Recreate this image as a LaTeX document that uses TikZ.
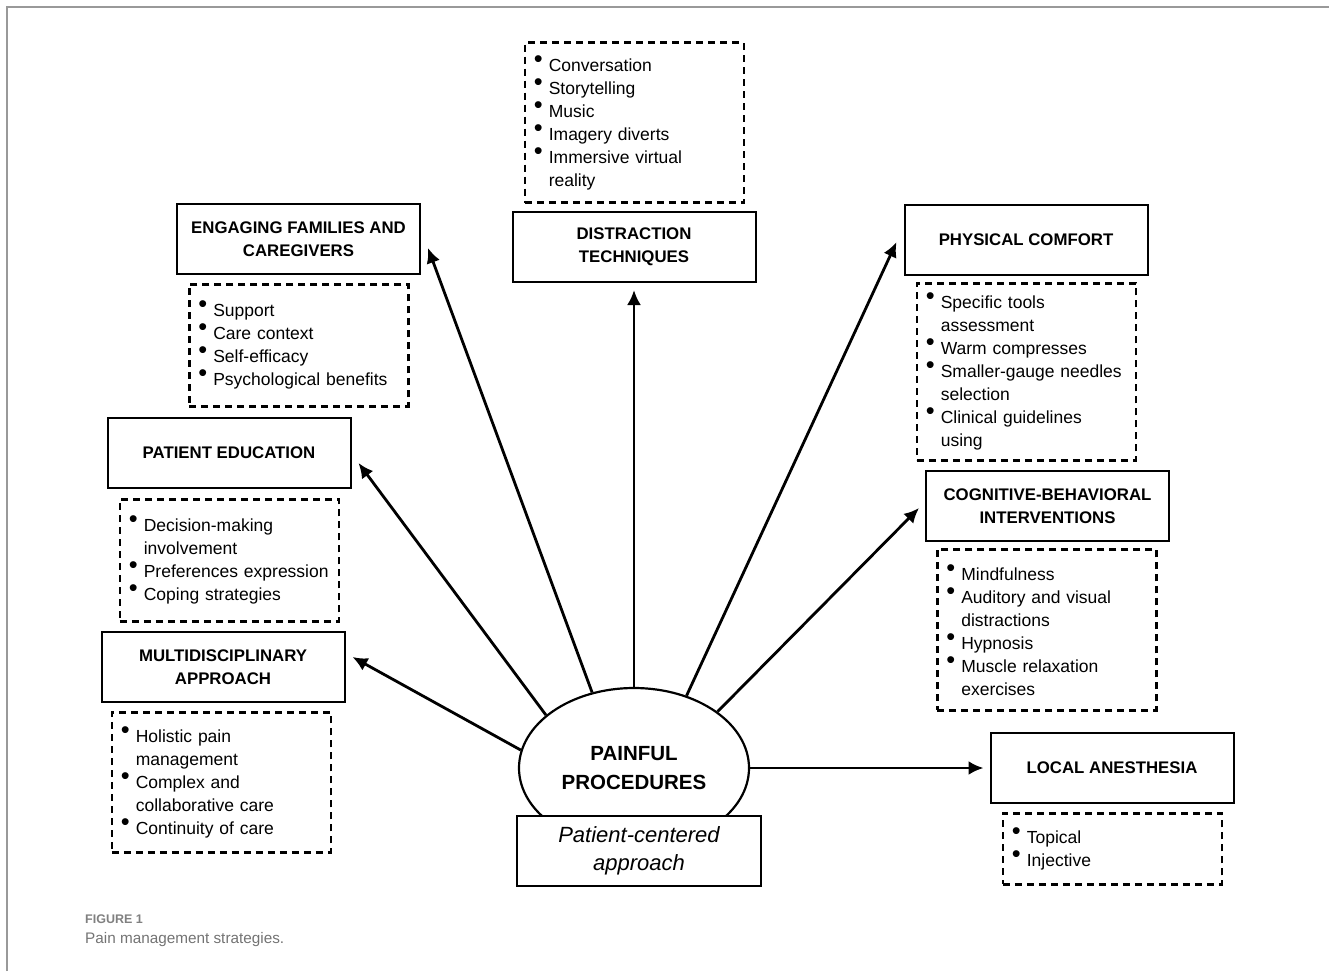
\documentclass[tikz,border=0pt]{standalone}
\usepackage{fontspec}
\setmainfont{Liberation Sans}
\usetikzlibrary{positioning,shapes.geometric,arrows.meta}
\hyphenpenalty=10000
\exhyphenpenalty=10000
\newcommand{\bul}{\makebox[15pt][l]{\raisebox{4pt}{\scalebox{1.45}{\textbullet}}}}
\newcommand{\cnt}{\hspace*{15pt}}
\begin{document}
\begin{tikzpicture}[x=1pt,y=-1pt,
    % define styles
    head/.style={
         draw,
         line width=2pt,
         minimum width=243pt,
         minimum height=70pt,
         align=center,
         font=\fontsize{16.8}{23}\selectfont\bfseries
    },
    items/.style={
        draw,
        line width=2.6pt,
        dash pattern=on 7pt off 5pt,
        inner xsep=9pt,
        text width=201pt,
        align=left,
        font=\fontsize{17.5}{23}\selectfont
    },
    arr/.style={
        -{Latex[length=15pt,width=14pt]},
        line width=2.8pt
    }
]
\useasboundingbox (0,0) rectangle (1329,971);
% frame
\draw[gray!80, line width=1.5pt] (7,971) -- (7,7) -- (1329,7);

% Headings round the centre
\node[head] (dist) at (634,247) {DISTRACTION\\TECHNIQUES};
\node[head] (fam) at (298.5,239) {ENGAGING FAMILIES AND\\CAREGIVERS};
\node[head] (edu) at (229,453) {PATIENT EDUCATION};
\node[head] (multi) at (223,667) {MULTIDISCIPLINARY\\APPROACH};
\node[head] (comf) at (1026,240) {PHYSICAL COMFORT};
\node[head] (cogn) at (1047.5,506) {COGNITIVE-BEHAVIORAL\\INTERVENTIONS};
\node[head] (anest) at (1112,768) {LOCAL ANESTHESIA};

% Lists of items
\node[items, minimum height=160pt, above right=7pt and 12pt of dist.north west] (distl)
    {\bul Conversation\\ \bul Storytelling\\ \bul Music\\ \bul Imagery diverts\\ \bul Immersive virtual\\ \cnt reality};
\node[items, minimum height=122pt, below right=8pt and 12pt of fam.south west] (faml)
    {\bul Support\\ \bul Care context\\ \bul Self-efficacy\\ \bul Psychological benefits};
\node[items, minimum height=122pt, below right=9pt and 12pt of edu.south west] (edul)
    {\bul Decision-making\\ \cnt involvement\\ \mbox{\bul Preferences expression}\\ \bul Coping strategies};
\node[items, minimum height=140pt, below right=8pt and 10pt of multi.south west] (multil)
    {\bul Holistic pain\\ \cnt management\\ \bul Complex and\\ \cnt collaborative care\\ \bul Continuity of care};
\node[items, minimum height=177pt, below right=6pt and 12pt of comf.south west] (comfl)
    {\bul Specific tools\\ \cnt assessment\\ \bul Warm compresses\\ \mbox{\bul Smaller-gauge needles}\\ \cnt selection\\ \bul Clinical guidelines\\ \cnt using};
\node[items, minimum height=161pt, below right=6pt and 11pt of cogn.south west] (cognl)
    {\bul Mindfulness\\ \bul Auditory and visual\\ \cnt distractions\\ \bul Hypnosis\\ \bul Muscle relaxation\\ \cnt exercises};
\node[items, minimum height=71pt, below right=8pt and 12pt of anest.south west] (anestl)
    {\bul Topical\\ \bul Injective};

% Centre
\node[ellipse, draw, line width=2.2pt, minimum width=230pt, minimum height=160pt, inner sep=0pt,
    align=center, font=\fontsize{20.5}{29}\selectfont\bfseries] (pain) at (634,768) {PAINFUL\\PROCEDURES};

% Arrows from the centre
\draw[arr] (pain.119) -- ([shift={(7,9)}]fam.east);
\draw[arr] (pain.north) -- ([shift={(0,7)}]dist.south);
\draw[arr] (pain.54) -- ([shift={(-7,2)}]comf.west);
\draw[arr] (pain.34) -- ([shift={(-6,2)}]cogn.west);
\draw[arr] (pain.east) -- ([shift={(-6,0)}]anest.west);
\draw[arr] (pain.149) -- ([shift={(7,10)}]edu.east);
\draw[arr] (pain.171) -- ([shift={(7,-10)}]multi.east);

\node[draw, line width=2pt, fill=white, minimum width=244pt, minimum height=70pt, align=center,
    font=\fontsize{22}{28}\selectfont\itshape] (pcare) at (639,851) {Patient-centered\\approach};

% Caption
\node[anchor=base west, inner sep=0pt, text=gray, font=\fontsize{12.5}{14}\selectfont\bfseries] (fig) at (85,923) {FIGURE 1};
\node[anchor=base west, inner sep=0pt, text=gray!90!black, font=\fontsize{15.3}{18}\selectfont] (capt) at (85,943) {Pain management strategies.};
\end{tikzpicture}
\end{document}
